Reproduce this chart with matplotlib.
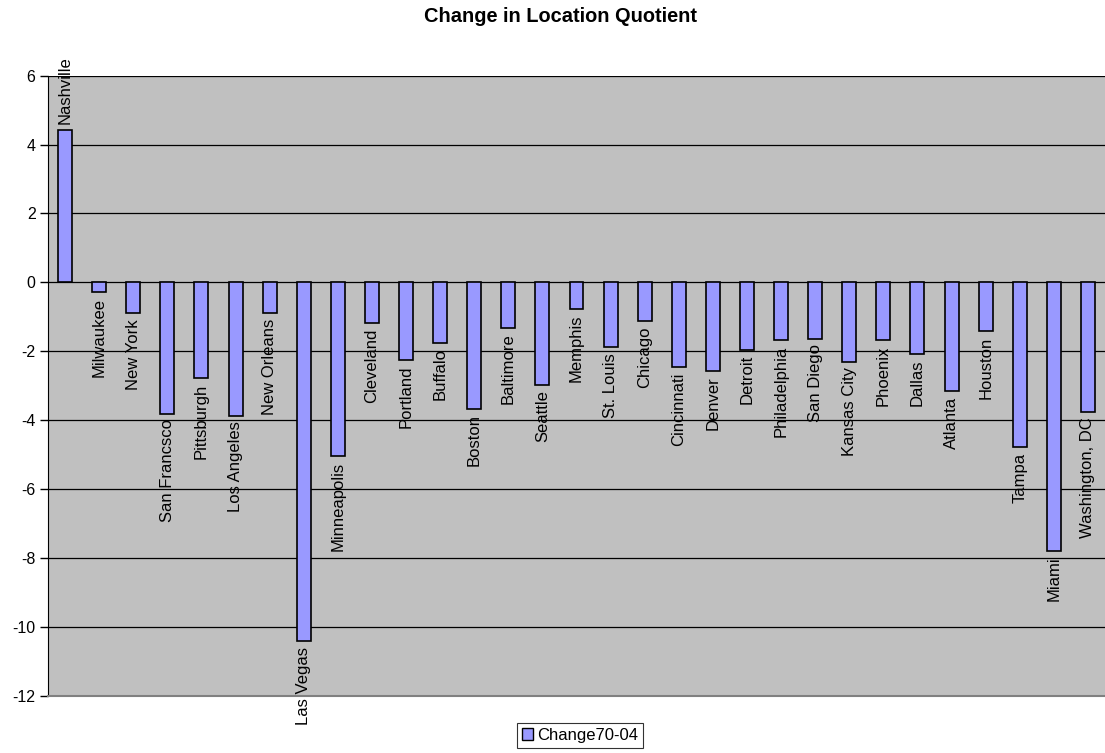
import matplotlib
matplotlib.use("Agg")
import matplotlib.pyplot as plt
from matplotlib.patches import Patch

plt.rcParams['font.family'] = ['Liberation Sans', 'DejaVu Sans']

cities = ["Nashville", "Milwaukee", "New York", "San Francsco", "Pittsburgh",
          "Los Angeles", "New Orleans", "Las Vegas", "Minneapolis", "Cleveland",
          "Portland", "Buffalo", "Boston", "Baltimore", "Seattle", "Memphis",
          "St. Louis", "Chicago", "Cincinnati", "Denver", "Detroit",
          "Philadelphia", "San Diego", "Kansas City", "Phoenix", "Dallas",
          "Atlanta", "Houston", "Tampa", "Miami", "Washington, DC"]
change = [4.43, -0.29, -0.90, -3.81, -2.78, -3.87, -0.90, -10.42, -5.04, -1.18,
          -2.24, -1.75, -3.67, -1.33, -2.97, -0.77, -1.89, -1.11, -2.46, -2.57,
          -1.95, -1.67, -1.64, -2.30, -1.68, -2.08, -3.16, -1.41, -4.79, -7.79,
          -3.76]
yticks = list(range(-12, 7, 2))
series_name = "Change70-04"
title = "Change in Location Quotient"

bar_color = "#9999FF"
bg = "#C0C0C0"

fig = plt.figure(figsize=(11.05, 7.53), dpi=100)
ax = fig.add_axes([48/1105, 57.3/753, 1057/1105, 620/753])
ax.set_facecolor(bg)

x = list(range(len(cities)))
ax.bar(x, change, width=0.41, color=bar_color, edgecolor="black", linewidth=1.2, zorder=3)

ax.set_xlim(-0.5, len(cities) - 0.5)
ax.set_ylim(-12, 6)
ax.set_yticks(yticks)
ax.set_yticklabels([str(t) for t in yticks], fontsize=11.5)
ax.set_xticks([])
ax.yaxis.grid(True, color="black", linewidth=0.9, zorder=1)
ax.set_axisbelow(True)
ax.tick_params(axis='y', direction='out', length=6, width=1, color='black', pad=3)

for s in ['top', 'right']:
    ax.spines[s].set_visible(False)
ax.spines['left'].set_color('black')
ax.spines['bottom'].set_color('#808080')
ax.spines['bottom'].set_linewidth(1.5)

for xi, v, name in zip(x, change, cities):
    if v >= 0:
        ax.annotate(name, (xi, v), xytext=(0, 4), textcoords='offset points',
                    rotation=90, ha='center', va='bottom', fontsize=12,
                    annotation_clip=False, zorder=4)
    else:
        ax.annotate(name, (xi, v), xytext=(0, -4), textcoords='offset points',
                    rotation=90, ha='center', va='top', fontsize=12,
                    annotation_clip=False, zorder=4)

fig.text(560/1105, 1 - 17/753, title, ha='center', va='center', fontsize=14.4, fontweight='bold')

handle = Patch(facecolor=bar_color, edgecolor='black', linewidth=1)
leg = fig.legend([handle], [series_name], loc='center', bbox_to_anchor=(580/1105, 1 - 735.5/753),
                 fontsize=12, frameon=True, fancybox=False, edgecolor='black',
                 handlelength=0.7, handleheight=0.7, handletextpad=0.25,
                 borderpad=0.3, borderaxespad=0)
leg.get_frame().set_linewidth(0.8)

fig.savefig("out.png", dpi=100)
